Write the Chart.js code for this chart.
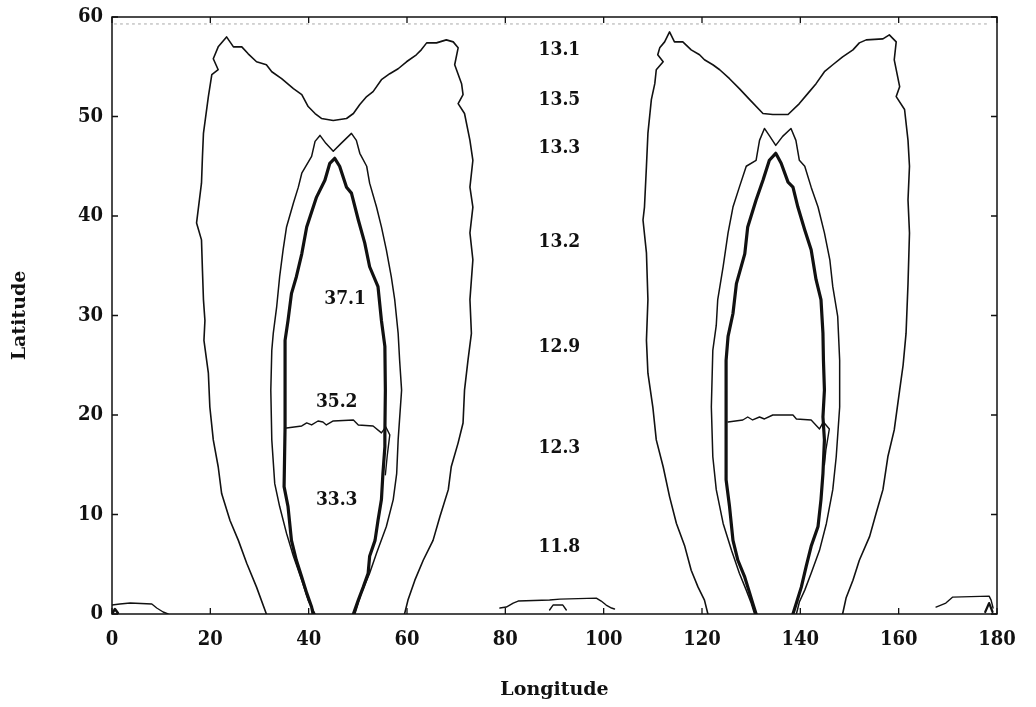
<!DOCTYPE html>
<html>
<head>
<meta charset="utf-8">
<script src="https://cdn.jsdelivr.net/npm/chart.js@4/dist/chart.umd.min.js"></script>
<style>
  html, body { margin: 0; padding: 0; background: #fff; }
  #wrap { width: 1036px; height: 707px; }
</style>
</head>
<body>
<div id="wrap"><canvas id="c" width="1036" height="707"></canvas></div>
<script>
// ---------- axis ticks ----------
const xTicks = [0, 20, 40, 60, 80, 100, 120, 140, 160, 180];
const yTicks = [0, 10, 20, 30, 40, 50, 60];

// ---------- contour lines: [longitude, latitude] ----------
// western structure (centred near 45 E)
const westOuter = [[31.4,0],[29.4,2.7],[27.4,5.1],[25.7,7.4],[24.0,9.4],[22.3,12.1],[21.6,14.8],[20.6,17.5],[19.9,20.8],[19.6,24.2],[18.7,27.5],[18.9,29.5],[18.6,31.6],[18.4,34.5],[18.2,37.6],[17.2,39.3],[18.2,43.3],[18.4,46.0],[18.6,48.3],[19.6,52.0],[20.3,54.2],[21.6,54.7],[20.6,55.8],[21.6,57.0],[23.3,58.0],[24.0,57.5],[24.7,57.0],[26.4,57.0],[27.7,56.3],[29.4,55.5],[31.4,55.2],[32.5,54.5],[34.5,53.8],[36.9,52.8],[38.6,52.2],[39.9,51.0],[41.3,50.3],[42.6,49.8],[45.0,49.6],[47.7,49.8],[49.1,50.3],[50.4,51.2],[51.8,52.0],[53.1,52.5],[54.8,53.7],[56.5,54.3],[58.2,54.8],[59.9,55.5],[61.9,56.2],[62.9,56.7],[64.0,57.4],[66.0,57.4],[68.0,57.7],[69.4,57.5],[70.4,56.9],[69.7,55.2],[71.1,53.3],[71.4,52.2],[70.4,51.3],[71.7,50.3],[72.8,47.6],[73.4,45.6],[72.8,42.9],[73.4,40.9],[72.8,38.3],[73.4,35.6],[72.8,31.6],[73.1,28.2],[72.4,25.5],[71.7,22.5],[71.4,19.2],[70.4,17.2],[69.0,14.8],[68.4,12.5],[66.7,9.8],[65.3,7.4],[63.3,5.4],[61.6,3.4],[60.2,1.4],[59.5,0]];
const westMiddle = [[41.3,0],[39.9,1.4],[38.6,3.4],[36.9,5.8],[35.5,8.1],[34.1,10.8],[33.1,13.1],[32.5,17.5],[32.3,22.5],[32.5,26.5],[32.8,28.2],[33.5,30.9],[34.1,33.9],[34.8,36.6],[35.5,38.9],[36.9,41.3],[37.9,42.9],[38.6,44.3],[40.6,46.0],[41.3,47.5],[42.3,48.1],[43.5,47.3],[45.0,46.5],[46.6,47.3],[48.7,48.3],[49.7,47.6],[50.4,46.3],[51.8,45.0],[52.4,43.3],[53.8,40.9],[54.8,38.9],[55.8,36.6],[56.8,33.9],[57.5,31.6],[58.2,28.2],[58.5,25.5],[58.9,22.5],[58.2,17.5],[57.9,14.1],[57.2,11.5],[55.8,8.8],[53.8,6.1],[52.4,4.1],[50.7,2.1],[49.4,0]];
const westInner = [[40.9,0],[40.6,0.7],[39.6,2.1],[38.6,3.7],[37.5,5.4],[36.5,7.4],[35.8,10.8],[35.0,12.8],[35.2,18.8],[35.2,24.2],[35.2,27.5],[35.8,29.5],[36.5,32.2],[37.5,33.9],[38.6,36.2],[39.6,38.9],[41.6,41.9],[43.3,43.6],[44.3,45.3],[45.3,45.8],[46.3,45.0],[47.7,42.9],[48.7,42.3],[50.1,39.6],[51.4,37.3],[52.4,34.9],[54.1,32.9],[54.8,29.5],[55.5,26.9],[55.6,22.5],[55.5,18.2],[55.5,16.8],[55.1,14.1],[54.8,11.5],[54.1,9.4],[53.5,7.4],[52.4,5.8],[52.1,4.1],[51.1,2.7],[50.1,1.4],[49.1,0]];
const westDivide = [[35.5,18.7],[38.6,18.9],[39.6,19.2],[40.6,19.0],[41.9,19.4],[42.9,19.3],[43.6,19.0],[45.0,19.4],[49.1,19.5],[50.1,19.0],[53.1,18.9],[54.8,18.2],[55.7,18.8],[56.5,18.0],[56.0,16.0],[55.6,14.0]];

// eastern structure (centred near 135 E)
const eastOuter = [[121.2,0],[120.5,1.4],[119.2,2.7],[117.8,4.4],[116.5,6.8],[114.8,9.1],[113.4,11.8],[112.1,14.8],[110.7,17.5],[110.0,20.8],[109.0,24.2],[108.7,27.5],[109.0,31.6],[108.7,36.3],[108.0,39.6],[108.3,40.9],[108.7,45.0],[109.0,48.3],[109.7,51.7],[110.4,53.3],[110.7,54.7],[112.1,55.5],[111.0,56.2],[111.4,56.9],[112.4,57.5],[113.4,58.5],[114.4,57.5],[116.1,57.5],[117.8,56.7],[119.5,56.2],[120.5,55.7],[122.2,55.2],[123.6,54.7],[125.6,53.8],[127.6,52.8],[129.7,51.7],[132.4,50.3],[134.4,50.2],[137.5,50.2],[139.8,51.3],[141.5,52.3],[143.2,53.3],[144.9,54.5],[146.6,55.2],[148.6,56.0],[150.7,56.7],[152.0,57.4],[153.4,57.7],[156.8,57.8],[158.1,58.2],[159.5,57.5],[159.1,55.7],[160.2,53.0],[159.5,52.0],[161.2,50.7],[161.9,47.6],[162.2,45.0],[161.9,41.6],[162.2,38.3],[161.9,33.2],[161.5,28.2],[160.9,25.0],[160.2,22.5],[159.1,18.5],[157.8,15.8],[156.8,12.5],[155.4,10.1],[154.1,7.8],[152.0,5.4],[150.7,3.4],[149.3,1.6],[148.6,0]];
const eastMiddle = [[130.7,0],[130.0,1.1],[129.0,2.4],[127.6,4.1],[126.0,6.4],[124.3,9.1],[122.9,12.5],[122.2,15.8],[121.9,20.8],[122.2,26.5],[122.9,29.0],[123.2,31.6],[124.3,34.9],[125.3,38.3],[126.3,40.9],[127.6,42.9],[129.0,45.0],[131.0,45.6],[131.7,47.6],[132.7,48.8],[133.8,48.0],[135.0,47.1],[136.4,48.0],[138.1,48.8],[139.1,47.6],[139.8,45.6],[140.9,45.0],[142.2,42.9],[143.6,40.9],[144.9,38.3],[146.0,35.6],[146.6,32.9],[147.6,29.9],[148.0,25.5],[148.0,20.8],[147.3,15.8],[146.6,12.5],[145.3,9.1],[143.9,6.4],[142.2,4.1],[140.9,2.4],[139.8,1.2],[139.2,0]];
const eastInner = [[131.0,0],[130.3,1.1],[129.7,2.1],[128.7,3.7],[127.3,5.4],[126.3,7.4],[125.6,10.8],[124.9,13.5],[124.9,19.5],[124.9,25.5],[125.3,27.9],[126.3,30.2],[127.0,33.2],[128.7,36.2],[129.3,38.9],[131.0,41.6],[132.4,43.6],[133.7,45.6],[135.0,46.3],[136.1,45.3],[137.5,43.4],[138.5,42.9],[139.5,40.9],[140.9,38.6],[142.2,36.6],[143.2,33.6],[144.2,31.6],[144.6,28.2],[144.7,25.5],[144.9,22.5],[144.6,19.8],[144.9,17.5],[144.6,14.1],[144.2,11.5],[143.6,8.8],[142.2,6.8],[141.2,4.8],[140.2,2.7],[139.2,1.1],[138.5,0]];
const eastDivide = [[125.3,19.3],[128.3,19.5],[129.3,19.8],[130.3,19.5],[131.7,19.8],[132.7,19.6],[134.4,20.0],[138.5,20.0],[139.2,19.6],[142.2,19.5],[143.9,18.6],[144.7,19.3],[145.9,18.6],[145.2,16.5],[144.9,15.0]];

// small patches along the equator
const patchWest = [[0,0.9],[1.6,1.0],[3.7,1.1],[8.1,1.0],[9.1,0.6],[10.4,0.2],[11.4,0]];
const patchCentre = [[78.9,0.6],[80.2,0.7],[81.6,1.1],[82.6,1.3],[89.0,1.4],[91.1,1.5],[98.5,1.6],[99.5,1.3],[100.5,0.9],[101.6,0.6],[102.2,0.5]];
const patchCentreInner = [[89.0,0.4],[89.7,0.9],[91.7,0.9],[92.4,0.4]];
const patchEast = [[167.6,0.7],[169.6,1.1],[171.0,1.7],[178.4,1.8],[178.8,1.4],[179.2,0.6]];
const patchEastInner = [[177.6,0.2],[178.4,1.1],[179.1,0.2]];
const patchCorner = [[0.1,0.1],[0.6,0.5],[1.2,0.1]];
const topDotted = [[0.5,59.3],[178.5,59.3]];

// ---------- contour value labels ----------
const labelText = ['13.1','13.5','13.3','13.2','12.9','12.3','11.8','37.1','35.2','33.3'];
const labelLon  = [91.0, 91.0, 91.0, 91.0, 91.0, 91.0, 91.0, 47.4, 45.7, 45.7];
const labelLat  = [56.7, 51.7, 46.8, 37.4, 26.8, 16.7, 6.7, 31.7, 21.3, 11.5];

// ---------- build datasets ----------
const INK = '#111';
function toPts(arr) { return arr.map(p => ({ x: p[0], y: p[1] })); }
function line(arr, w, extra) {
  return Object.assign({
    data: toPts(arr), showLine: true, borderColor: INK, borderWidth: w,
    pointRadius: 0, tension: 0, fill: false, borderJoinStyle: 'round', borderCapStyle: 'round'
  }, extra || {});
}
const datasets = [
  line(westOuter, 1.6), line(westMiddle, 1.5), line(westInner, 3.2), line(westDivide, 1.4),
  line(eastOuter, 1.6), line(eastMiddle, 1.5), line(eastInner, 3.2), line(eastDivide, 1.4),
  line(patchWest, 1.4), line(patchCentre, 1.4), line(patchCentreInner, 1.4),
  line(patchEast, 1.4), line(patchEastInner, 2.2), line(patchCorner, 2.5),
  line(topDotted, 1, { borderColor: '#a8a8a8', borderDash: [2, 4] })
];

const SERIF = '"DejaVu Serif Condensed", "DejaVu Serif", serif';
const TICK_FONT = { family: SERIF, size: 20, weight: 'bold' };
const TITLE_FONT = { family: '"DejaVu Serif", serif', size: 19, weight: 'bold' };

const decorPlugin = {
  id: 'decor',
  afterDatasetsDraw(chart) {
    const { ctx, chartArea: a, scales: { x, y } } = chart;
    ctx.save();
    // frame
    ctx.strokeStyle = INK;
    ctx.lineWidth = 1.5;
    ctx.strokeRect(a.left, a.top, a.right - a.left, a.bottom - a.top);
    // inward ticks on all sides
    const L = 6;
    ctx.lineWidth = 1.3;
    ctx.beginPath();
    xTicks.forEach(v => {
      const px = x.getPixelForValue(v);
      ctx.moveTo(px, a.bottom); ctx.lineTo(px, a.bottom - L);
      ctx.moveTo(px, a.top); ctx.lineTo(px, a.top + L);
    });
    yTicks.forEach(v => {
      const py = y.getPixelForValue(v);
      ctx.moveTo(a.left, py); ctx.lineTo(a.left + L, py);
      ctx.moveTo(a.right, py); ctx.lineTo(a.right - L, py);
    });
    ctx.stroke();
    // contour labels
    ctx.fillStyle = INK;
    ctx.font = 'bold 19px ' + SERIF;
    ctx.textAlign = 'center';
    ctx.textBaseline = 'middle';
    labelText.forEach((t, i) => {
      ctx.fillText(t, x.getPixelForValue(labelLon[i]), y.getPixelForValue(labelLat[i]));
    });
    ctx.restore();
  }
};

new Chart(document.getElementById('c'), {
  type: 'scatter',
  data: { datasets },
  options: {
    responsive: false,
    animation: false,
    events: [],
    layout: { padding: { top: 17, right: 39, left: 0, bottom: 0 } },
    plugins: { legend: { display: false }, tooltip: { enabled: false } },
    scales: {
      x: {
        type: 'linear', min: 0, max: 180,
        afterBuildTicks: s => { s.ticks = xTicks.map(v => ({ value: v })); },
        ticks: { font: TICK_FONT, color: INK, padding: 14, maxRotation: 0, autoSkip: false },
        grid: { display: false, drawTicks: false, tickLength: 0 },
        border: { display: false },
        title: { display: true, text: 'Longitude', font: TITLE_FONT, color: INK, padding: { top: 0, bottom: 6 } },
        afterFit: s => { s.height = 93; s.paddingLeft = 0; s.paddingRight = 0; }
      },
      y: {
        type: 'linear', min: 0, max: 60,
        afterBuildTicks: s => { s.ticks = yTicks.map(v => ({ value: v })); },
        ticks: { font: TICK_FONT, color: INK, padding: 9, autoSkip: false },
        grid: { display: false, drawTicks: false, tickLength: 0 },
        border: { display: false },
        title: { display: true, text: 'Latitude', font: TITLE_FONT, color: INK, padding: { top: 9, bottom: 0 } },
        afterFit: s => { s.width = 112; s.paddingTop = 0; s.paddingBottom = 0; }
      }
    }
  },
  plugins: [decorPlugin]
});
</script>
</body>
</html>
